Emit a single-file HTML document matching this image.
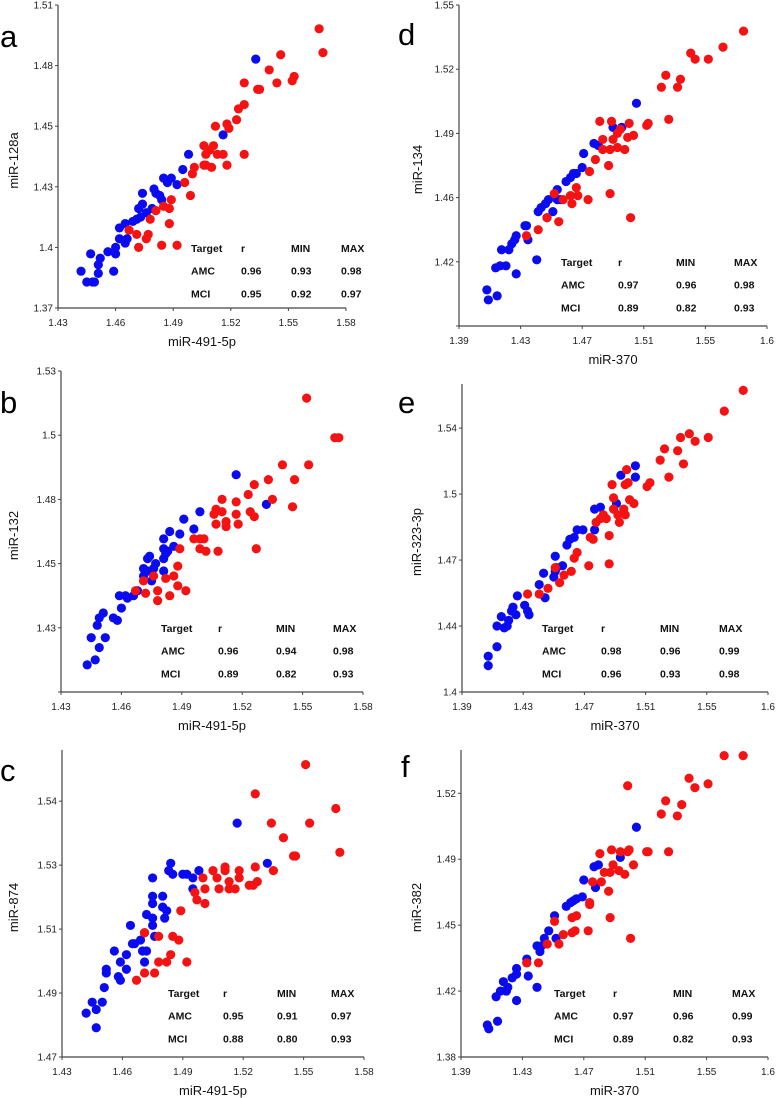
<!DOCTYPE html>
<html><head><meta charset="utf-8">
<style>
html,body{margin:0;padding:0;background:#fff;}
svg{display:block;font-family:"Liberation Sans",Arial,sans-serif;}
.tick{font-size:10px;fill:#222;}
.atitle{font-size:13px;fill:#111;}
.tbl{font-size:10.5px;font-weight:bold;fill:#111;}
.plabel{font-size:31px;fill:#000;}
</style></head>
<body>
<svg id="fig" width="776" height="1098" viewBox="0 0 776 1098" xmlns="http://www.w3.org/2000/svg"></svg>
<script>
// x tick labels
const xLabels1 = ["1.43","1.46","1.49","1.52","1.55","1.58"];
const xLabels2 = ["1.39","1.43","1.47","1.51","1.55","1.6"];
// y tick labels
const aYLabels = ["1.37","1.4","1.43","1.45","1.48","1.51"];
const bYLabels = ["","1.43","1.45","1.48","1.5","1.53"];
const cYLabels = ["1.47","1.49","1.51","1.53","1.54"];
const dYLabels = ["","1.42","1.46","1.49","1.52","1.55"];
const eYLabels = ["1.4","1.44","1.47","1.5","1.54"];
const fYLabels = ["1.38","1.42","1.45","1.49","1.52"];
// table values
const aTable = [["0.96","0.93","0.98"],["0.95","0.92","0.97"]];
const bTable = [["0.96","0.94","0.98"],["0.89","0.82","0.93"]];
const cTable = [["0.95","0.91","0.97"],["0.88","0.80","0.93"]];
const dTable = [["0.97","0.96","0.98"],["0.89","0.82","0.93"]];
const eTable = [["0.98","0.96","0.99"],["0.96","0.93","0.98"]];
const fTable = [["0.97","0.96","0.99"],["0.89","0.82","0.93"]];
// series (x,y)
const aBlue = [[1.442,1.387],[1.445,1.382],[1.448,1.382],[1.449,1.382],[1.447,1.395],[1.451,1.390],[1.452,1.393],[1.451,1.386],[1.456,1.396],[1.459,1.387],[1.460,1.395],[1.460,1.398],[1.462,1.402],[1.462,1.407],[1.465,1.400],[1.466,1.402],[1.465,1.409],[1.469,1.410],[1.471,1.411],[1.473,1.412],[1.474,1.423],[1.474,1.418],[1.472,1.416],[1.476,1.414],[1.479,1.416],[1.480,1.425],[1.481,1.423],[1.483,1.422],[1.484,1.420],[1.485,1.430],[1.487,1.428],[1.489,1.430],[1.492,1.427],[1.495,1.434],[1.498,1.441],[1.533,1.485],[1.516,1.450]];
const aRed = [[1.467,1.406],[1.471,1.404],[1.472,1.398],[1.476,1.402],[1.477,1.404],[1.478,1.411],[1.481,1.415],[1.484,1.399],[1.485,1.417],[1.488,1.416],[1.488,1.409],[1.489,1.420],[1.492,1.399],[1.496,1.428],[1.499,1.422],[1.500,1.432],[1.501,1.435],[1.506,1.445],[1.507,1.436],[1.509,1.443],[1.510,1.435],[1.511,1.445],[1.513,1.441],[1.516,1.441],[1.518,1.436],[1.512,1.454],[1.518,1.455],[1.519,1.453],[1.523,1.457],[1.524,1.462],[1.527,1.464],[1.527,1.441],[1.527,1.474],[1.534,1.471],[1.535,1.471],[1.540,1.480],[1.544,1.474],[1.546,1.487],[1.552,1.475],[1.553,1.477],[1.566,1.499],[1.568,1.488],[1.506,1.436],[1.507,1.441]];
const bBlue = [[1.443,1.411],[1.447,1.413],[1.449,1.418],[1.445,1.422],[1.448,1.427],[1.449,1.430],[1.451,1.432],[1.452,1.422],[1.456,1.430],[1.458,1.429],[1.460,1.434],[1.459,1.439],[1.462,1.439],[1.463,1.438],[1.466,1.439],[1.468,1.441],[1.471,1.447],[1.471,1.450],[1.473,1.454],[1.474,1.455],[1.476,1.450],[1.475,1.445],[1.477,1.452],[1.481,1.458],[1.481,1.449],[1.481,1.454],[1.482,1.456],[1.483,1.457],[1.484,1.465],[1.486,1.459],[1.481,1.462],[1.489,1.464],[1.491,1.470],[1.496,1.466],[1.499,1.473],[1.517,1.488],[1.532,1.476],[1.473,1.449]];
const bRed = [[1.467,1.441],[1.471,1.445],[1.472,1.440],[1.476,1.447],[1.478,1.441],[1.478,1.437],[1.482,1.446],[1.484,1.439],[1.486,1.447],[1.488,1.451],[1.488,1.443],[1.489,1.458],[1.492,1.441],[1.496,1.462],[1.499,1.462],[1.501,1.462],[1.499,1.458],[1.502,1.457],[1.508,1.457],[1.507,1.474],[1.507,1.468],[1.510,1.478],[1.510,1.473],[1.512,1.469],[1.512,1.467],[1.517,1.477],[1.517,1.472],[1.518,1.468],[1.523,1.480],[1.524,1.473],[1.526,1.471],[1.526,1.484],[1.527,1.458],[1.533,1.486],[1.535,1.478],[1.540,1.492],[1.545,1.475],[1.546,1.486],[1.553,1.492],[1.552,1.519],[1.566,1.503],[1.568,1.503],[1.506,1.472]];
const cBlue = [[1.442,1.482],[1.445,1.485],[1.447,1.483],[1.447,1.478],[1.450,1.485],[1.451,1.489],[1.452,1.494],[1.452,1.493],[1.456,1.499],[1.458,1.492],[1.459,1.491],[1.459,1.496],[1.462,1.494],[1.462,1.498],[1.464,1.506],[1.465,1.501],[1.466,1.501],[1.469,1.502],[1.470,1.499],[1.471,1.504],[1.472,1.509],[1.472,1.499],[1.475,1.508],[1.475,1.519],[1.475,1.514],[1.475,1.512],[1.475,1.506],[1.476,1.503],[1.480,1.514],[1.480,1.511],[1.481,1.508],[1.482,1.510],[1.483,1.521],[1.484,1.523],[1.485,1.520],[1.490,1.520],[1.492,1.520],[1.495,1.516],[1.495,1.519],[1.498,1.521],[1.517,1.534],[1.532,1.523],[1.471,1.496]];
const cRed = [[1.467,1.491],[1.471,1.504],[1.471,1.493],[1.476,1.493],[1.478,1.503],[1.478,1.496],[1.482,1.496],[1.484,1.498],[1.485,1.503],[1.488,1.502],[1.489,1.510],[1.492,1.496],[1.496,1.515],[1.497,1.513],[1.500,1.519],[1.501,1.512],[1.501,1.516],[1.507,1.519],[1.508,1.516],[1.511,1.522],[1.511,1.521],[1.513,1.518],[1.516,1.516],[1.518,1.521],[1.518,1.519],[1.523,1.517],[1.525,1.517],[1.526,1.522],[1.527,1.518],[1.526,1.542],[1.534,1.534],[1.535,1.521],[1.540,1.530],[1.545,1.525],[1.546,1.525],[1.551,1.550],[1.553,1.534],[1.566,1.538],[1.568,1.526],[1.505,1.521],[1.513,1.516]];
const dBlue = [[1.409,1.408],[1.410,1.403],[1.416,1.405],[1.415,1.419],[1.418,1.420],[1.419,1.428],[1.422,1.420],[1.424,1.428],[1.426,1.431],[1.428,1.433],[1.429,1.435],[1.429,1.416],[1.435,1.440],[1.436,1.440],[1.437,1.433],[1.443,1.423],[1.444,1.447],[1.446,1.449],[1.449,1.451],[1.451,1.453],[1.454,1.447],[1.457,1.458],[1.457,1.453],[1.459,1.453],[1.463,1.462],[1.466,1.464],[1.468,1.466],[1.470,1.466],[1.474,1.469],[1.475,1.476],[1.482,1.481],[1.485,1.480],[1.495,1.489],[1.501,1.489],[1.511,1.501],[1.450,1.444]];
const dRed = [[1.436,1.435],[1.444,1.438],[1.450,1.444],[1.455,1.456],[1.458,1.442],[1.461,1.453],[1.466,1.455],[1.467,1.451],[1.470,1.459],[1.471,1.455],[1.478,1.453],[1.479,1.467],[1.483,1.473],[1.486,1.492],[1.488,1.478],[1.492,1.470],[1.493,1.456],[1.493,1.478],[1.494,1.492],[1.495,1.483],[1.498,1.486],[1.500,1.488],[1.503,1.478],[1.505,1.484],[1.506,1.491],[1.507,1.444],[1.509,1.485],[1.518,1.490],[1.519,1.491],[1.528,1.509],[1.531,1.515],[1.533,1.493],[1.539,1.509],[1.541,1.513],[1.548,1.526],[1.551,1.523],[1.560,1.523],[1.570,1.529],[1.584,1.537],[1.488,1.483],[1.498,1.479]];
const eBlue = [[1.408,1.414],[1.408,1.419],[1.414,1.424],[1.414,1.435],[1.417,1.440],[1.419,1.434],[1.421,1.435],[1.422,1.438],[1.424,1.443],[1.425,1.445],[1.427,1.441],[1.428,1.451],[1.433,1.446],[1.435,1.443],[1.436,1.441],[1.443,1.457],[1.446,1.463],[1.447,1.450],[1.453,1.461],[1.454,1.472],[1.455,1.466],[1.459,1.467],[1.462,1.478],[1.464,1.481],[1.467,1.482],[1.469,1.486],[1.473,1.486],[1.481,1.486],[1.481,1.497],[1.485,1.498],[1.496,1.500],[1.499,1.515],[1.509,1.520],[1.509,1.514],[1.454,1.464]];
const eRed = [[1.435,1.452],[1.443,1.452],[1.449,1.455],[1.454,1.466],[1.457,1.458],[1.460,1.462],[1.465,1.464],[1.467,1.471],[1.469,1.474],[1.477,1.467],[1.478,1.482],[1.480,1.481],[1.482,1.490],[1.485,1.492],[1.489,1.492],[1.491,1.483],[1.491,1.468],[1.493,1.510],[1.494,1.503],[1.494,1.497],[1.497,1.494],[1.501,1.497],[1.502,1.510],[1.503,1.518],[1.502,1.494],[1.504,1.511],[1.505,1.502],[1.508,1.500],[1.517,1.509],[1.519,1.511],[1.526,1.523],[1.529,1.529],[1.532,1.514],[1.538,1.528],[1.542,1.521],[1.540,1.535],[1.546,1.537],[1.550,1.533],[1.559,1.535],[1.570,1.549],[1.583,1.560],[1.487,1.494],[1.498,1.490]];
const fBlue = [[1.408,1.397],[1.409,1.395],[1.415,1.399],[1.414,1.412],[1.417,1.415],[1.419,1.420],[1.421,1.415],[1.422,1.417],[1.425,1.422],[1.428,1.424],[1.428,1.427],[1.428,1.410],[1.435,1.432],[1.435,1.430],[1.436,1.423],[1.442,1.417],[1.442,1.439],[1.444,1.436],[1.447,1.443],[1.450,1.447],[1.454,1.455],[1.455,1.443],[1.462,1.460],[1.465,1.462],[1.467,1.463],[1.469,1.464],[1.473,1.465],[1.474,1.474],[1.481,1.481],[1.484,1.482],[1.499,1.486],[1.510,1.502],[1.482,1.470],[1.445,1.439]];
const fRed = [[1.435,1.430],[1.443,1.430],[1.449,1.440],[1.454,1.452],[1.457,1.440],[1.460,1.445],[1.466,1.446],[1.468,1.447],[1.466,1.454],[1.469,1.455],[1.477,1.447],[1.478,1.462],[1.480,1.473],[1.485,1.488],[1.486,1.473],[1.491,1.468],[1.492,1.454],[1.492,1.478],[1.493,1.490],[1.494,1.482],[1.499,1.489],[1.502,1.477],[1.504,1.489],[1.505,1.490],[1.506,1.443],[1.508,1.482],[1.504,1.524],[1.517,1.489],[1.518,1.489],[1.527,1.509],[1.530,1.516],[1.532,1.489],[1.538,1.508],[1.541,1.514],[1.546,1.528],[1.550,1.523],[1.559,1.525],[1.570,1.540],[1.583,1.540],[1.488,1.478],[1.498,1.479],[1.478,1.461]];

const NS = "http://www.w3.org/2000/svg";
const svg = document.getElementById('fig');
function mk(tag, attrs, parent, text){
  const e = document.createElementNS(NS, tag);
  for (const k in attrs) e.setAttribute(k, attrs[k]);
  if (text !== undefined) e.textContent = text;
  parent.appendChild(e);
  return e;
}
const panels = [
 {id:'a',L:58,R:346,T:5,B:308,xd:[1.43,1.58],yd:[1.37,1.51],yStep:0.028,xl:xLabels1,yl:aYLabels,xt:'miR-491-5p',yt:'miR-128a',ytx:14,lx:0,ly:47,blue:aBlue,red:aRed,tb:aTable,tx:[191,241,291,341],ty:248},
 {id:'b',L:61,R:363,T:371,B:692,xd:[1.43,1.58],yd:[1.40,1.53],yStep:0.026,xl:xLabels1,yl:bYLabels,xt:'miR-491-5p',yt:'miR-132',ytx:14,lx:0,ly:413,blue:bBlue,red:bRed,tb:bTable,tx:[161,218,276,333],ty:628},
 {id:'c',L:62,R:364,T:750,B:1057,xd:[1.43,1.58],yd:[1.47,1.554],yStep:0.0175,xl:xLabels1,yl:cYLabels,xt:'miR-491-5p',yt:'miR-874',ytx:14,lx:0,ly:781,blue:cBlue,red:cRed,tb:cTable,tx:[168,223,277,331],ty:993},
 {id:'d',L:459,R:767,T:5,B:326,xd:[1.39,1.60],yd:[1.39,1.55],yStep:0.032,xl:xLabels2,yl:dYLabels,xt:'miR-370',yt:'miR-134',ytx:418,lx:398,ly:45,blue:dBlue,red:dRed,tb:dTable,tx:[561,618,676,734],ty:262},
 {id:'e',L:462,R:768,T:384,B:692,xd:[1.39,1.60],yd:[1.40,1.5634],yStep:0.035,xl:xLabels2,yl:eYLabels,xt:'miR-370',yt:'miR-323-3p',ytx:417,lx:398,ly:413,blue:eBlue,red:eRed,tb:eTable,tx:[542,601,660,719],ty:628},
 {id:'f',L:461,R:768,T:750,B:1057,xd:[1.39,1.60],yd:[1.38,1.543],yStep:0.035,xl:xLabels2,yl:fYLabels,xt:'miR-370',yt:'miR-382',ytx:417,lx:401,ly:777,blue:fBlue,red:fRed,tb:fTable,tx:[554,613,673,732],ty:993}
];
panels.forEach(p=>{
  const g = mk('g',{},svg);
  
  
  const sx = v => p.L + (v - p.xd[0])/(p.xd[1]-p.xd[0])*(p.R-p.L);
  const sy = v => p.B - (v - p.yd[0])/(p.yd[1]-p.yd[0])*(p.B-p.T);
  const ax = mk('line',{x1:p.L,y1:p.T,x2:p.L,y2:p.B,stroke:'#444','stroke-width':1.2},g);
  
  
  const axx = mk('line',{x1:p.L,y1:p.B,x2:p.R,y2:p.B,stroke:'#444','stroke-width':1.2},g);
  
  
  const xs = (p.xd[1]-p.xd[0])/(p.xl.length-1);
  p.xl.forEach((lab,i)=>{
    const x = sx(p.xd[0]+i*xs);
    mk('line',{x1:x,y1:p.B,x2:x,y2:p.B+3,stroke:'#444'},g);
    const t = mk('text',{x:x,y:p.B+18,'text-anchor':'middle',class:'tick'},g,lab);
    
    
  });
  p.yl.forEach((lab,i)=>{
    const y = sy(p.yd[0]+i*p.yStep);
    mk('line',{x1:p.L-3,y1:y,x2:p.L,y2:y,stroke:'#444'},g);
    const t = mk('text',{x:p.L-5,y:y+3.5,'text-anchor':'end',class:'tick'},g,lab);
    
    
  });
  const xt = mk('text',{x:(p.L+p.R)/2,y:p.B+38,'text-anchor':'middle',class:'atitle'},g,p.xt);
  
  
  const cy = (p.T+p.B)/2;
  const yt = mk('text',{x:p.ytx,y:cy,'text-anchor':'middle',class:'atitle',transform:'rotate(-90 '+(p.ytx+4)+' '+cy+')'},g,p.yt);
  
  
  const pl = mk('text',{x:p.lx,y:p.ly,class:'plabel'},g,p.id);
  
  
  p.blue.forEach(d=>{
    const c = mk('circle',{cx:sx(d[0]),cy:sy(d[1]),r:4.6,fill:'#0b0bf0'},g);
    
    
  });
  p.red.forEach(d=>{
    const c = mk('circle',{cx:sx(d[0]),cy:sy(d[1]),r:4.6,fill:'#f51212'},g);
    
    
  });
  const head = ['Target','r','MIN','MAX'];
  const rows = [['AMC'].concat(p.tb[0]),['MCI'].concat(p.tb[1])];
  head.forEach((h,i)=>{
    const t = mk('text',{x:p.tx[i],y:p.ty+4,class:'tbl'},g,h);
    
    
  });
  rows.forEach((r,ri)=>r.forEach((v,i)=>{
    const t = mk('text',{x:p.tx[i],y:p.ty+4+(ri+1)*22.7,class:'tbl'},g,v);
    
    
  }));
});
</script>
</body></html>
